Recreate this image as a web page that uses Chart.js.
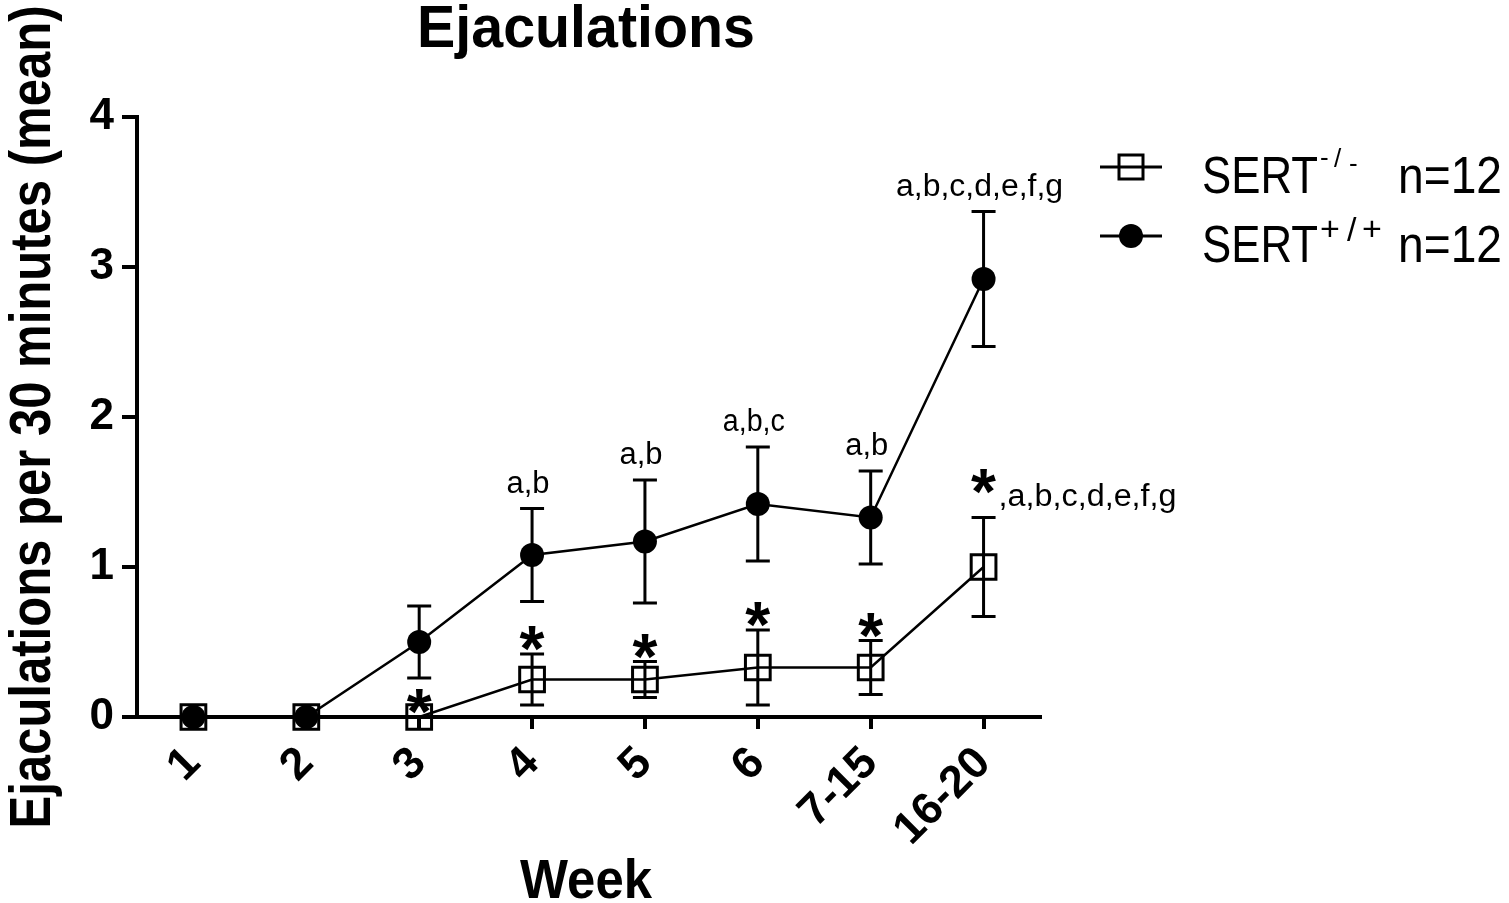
<!DOCTYPE html>
<html>
<head>
<meta charset="utf-8">
<script src="https://cdn.jsdelivr.net/npm/chart.js@4.4.1/dist/chart.umd.min.js"></script>
<style>
  html, body { margin: 0; padding: 0; background: #fff; }
  canvas { display: block; }
</style>
</head>
<body>
<canvas id="ejaculations" width="1509" height="903"></canvas>
<script>
// weeks on the x axis
const weeks = ['1', '2', '3', '4', '5', '6', '7-15', '16-20'];

// SERT-/- (open squares), mean and SEM
const sertKoMean = [0, 0, 0, 0.25, 0.25, 0.33, 0.33, 1.0];
const sertKoSem = [0, 0, 0, 0.17, 0.12, 0.25, 0.18, 0.33];

// SERT+/+ (filled circles), mean and SEM
const sertWtMean = [0, 0, 0.5, 1.08, 1.17, 1.42, 1.33, 2.92];
const sertWtSem = [0, 0, 0.24, 0.31, 0.41, 0.38, 0.31, 0.45];

// significance marks
const wtLetters = ['', '', '', 'a,b', 'a,b', 'a,b,c', 'a,b', 'a,b,c,d,e,f,g'];
const koStars = [false, false, true, true, true, true, true, true];
const koLetters = ['', '', '', '', '', '', '', ',a,b,c,d,e,f,g'];

const yTicks = [0, 1, 2, 3, 4];

const FONT = '"Liberation Sans", Arial, sans-serif';

// draw text squeezed/stretched horizontally to a given width
function fitText(ctx, text, x, y, font, width, align) {
  ctx.save();
  ctx.font = font;
  const w = ctx.measureText(text).width;
  const k = width ? width / w : 1;
  ctx.translate(x, y);
  ctx.scale(k, 1);
  ctx.textAlign = align || 'left';
  ctx.textBaseline = 'alphabetic';
  ctx.fillText(text, 0, 0);
  ctx.restore();
}

const extras = {
  id: 'extras',
  afterDatasetsDraw(chart) {
    const ctx = chart.ctx;
    const x = chart.scales.x, y = chart.scales.y;
    ctx.save();
    ctx.strokeStyle = '#000';
    ctx.fillStyle = '#000';
    ctx.lineWidth = 3;

    // error bars
    [[sertWtMean, sertWtSem], [sertKoMean, sertKoSem]].forEach(([m, s]) => {
      m.forEach((v, i) => {
        if (!s[i]) return;
        const px = x.getPixelForValue(i);
        const top = y.getPixelForValue(v + s[i]);
        const bot = y.getPixelForValue(Math.max(0, v - s[i]));
        ctx.beginPath();
        ctx.moveTo(px, top); ctx.lineTo(px, bot);
        ctx.moveTo(px - 12, top); ctx.lineTo(px + 12, top);
        ctx.moveTo(px - 12, bot); ctx.lineTo(px + 12, bot);
        ctx.stroke();
      });
    });

    // letters above SERT+/+
    ctx.textAlign = 'center';
    wtLetters.forEach((t, i) => {
      if (!t) return;
      const px = x.getPixelForValue(i);
      const top = y.getPixelForValue(sertWtMean[i] + sertWtSem[i]);
      const w = t.length > 6 ? 167 : (t.length > 3 ? 62 : 43);
      fitText(ctx, t, px - 4, top - 16, '31px ' + FONT, w, 'center');
    });

    // stars above SERT-/-
    koStars.forEach((st, i) => {
      if (!st) return;
      const px = x.getPixelForValue(i);
      const top = y.getPixelForValue(sertKoMean[i] + sertKoSem[i]);
      const lift = koLetters[i] ? 41 : 20;
      ctx.font = 'bold 64px ' + FONT;
      ctx.textAlign = 'center';
      ctx.fillText('*', px, top - lift + 37);
      if (koLetters[i]) {
        fitText(ctx, koLetters[i], px + 15, top - 12, '31px ' + FONT, 178, 'left');
      }
    });
    ctx.restore();
  },
  afterDraw(chart) {
    const ctx = chart.ctx;
    ctx.save();
    ctx.fillStyle = '#000';
    ctx.strokeStyle = '#000';

    // chart title
    fitText(ctx, 'Ejaculations', 586, 47, 'bold 60px ' + FONT, 338, 'center');
    // x axis title
    fitText(ctx, 'Week', 586, 898, 'bold 56px ' + FONT, 132, 'center');
    // y axis title
    ctx.save();
    ctx.translate(50, 417);
    ctx.rotate(-Math.PI / 2);
    fitText(ctx, 'Ejaculations per 30 minutes (mean)', 0, 0, 'bold 58px ' + FONT, 823, 'center');
    ctx.restore();

    // legend
    ctx.lineWidth = 3;
    ctx.strokeRect(1119, 155, 24, 24);
    ctx.beginPath();
    ctx.moveTo(1100, 167); ctx.lineTo(1162, 167);
    ctx.moveTo(1100, 236); ctx.lineTo(1162, 236);
    ctx.stroke();
    ctx.beginPath();
    ctx.arc(1131, 236, 12, 0, Math.PI * 2);
    ctx.fill();

    fitText(ctx, 'SERT', 1202, 193, '52px ' + FONT, 116);
    fitText(ctx, 'n=12', 1398, 193, '52px ' + FONT, 104);
    fitText(ctx, 'SERT', 1202, 262, '52px ' + FONT, 116);
    fitText(ctx, 'n=12', 1398, 262, '52px ' + FONT, 104);

    ctx.textAlign = 'left';
    ctx.font = '26px ' + FONT;
    ctx.fillText('-', 1320, 166);
    ctx.fillText('/', 1334, 167);
    ctx.fillText('-', 1349, 172);
    ctx.font = '34px ' + FONT;
    ctx.fillText('+', 1320, 240);
    ctx.fillText('/', 1347, 241);
    ctx.fillText('+', 1362, 240);
    ctx.restore();
  }
};

new Chart(document.getElementById('ejaculations'), {
  type: 'line',
  data: {
    labels: weeks,
    datasets: [{
      label: 'SERT-/- n=12',
      data: sertKoMean,
      borderColor: '#000',
      borderWidth: 2.5,
      pointStyle: 'rect',
      pointRadius: 17.5,
      pointBorderWidth: 3,
      pointBorderColor: '#000',
      pointBackgroundColor: 'rgba(0,0,0,0)',
      tension: 0,
      clip: false
    }, {
      label: 'SERT+/+ n=12',
      data: sertWtMean,
      borderColor: '#000',
      backgroundColor: '#000',
      borderWidth: 2.5,
      pointStyle: 'circle',
      pointRadius: 12,
      pointBorderWidth: 0,
      pointBackgroundColor: '#000',
      tension: 0,
      clip: false
    }]
  },
  options: {
    responsive: false,
    animation: false,
    devicePixelRatio: 1,
    layout: { padding: { top: 117, right: 469, bottom: 0, left: 0 } },
    plugins: { legend: { display: false }, tooltip: { enabled: false } },
    scales: {
      x: {
        offset: true,
        afterFit: (s) => { s.height = 186; },
        grid: { offset: false, drawOnChartArea: false, tickLength: 12, lineWidth: 4, color: '#000' },
        border: { display: true, width: 4, color: '#000' },
        ticks: {
          color: '#000',
          font: { family: FONT, size: 45, weight: 'bold' },
          minRotation: 45,
          maxRotation: 45,
          autoSkip: false,
          padding: 8
        }
      },
      y: {
        min: 0,
        max: 4,
        afterFit: (s) => { s.width = 137; },
        afterBuildTicks: (s) => { s.ticks = yTicks.map(v => ({ value: v })); },
        grid: { drawOnChartArea: false, tickLength: 15, lineWidth: 4, color: '#000' },
        border: { display: true, width: 4, color: '#000' },
        ticks: {
          color: '#000',
          font: { family: FONT, size: 44, weight: 'bold' },
          padding: 8
        }
      }
    }
  },
  plugins: [extras]
});
</script>
</body>
</html>
